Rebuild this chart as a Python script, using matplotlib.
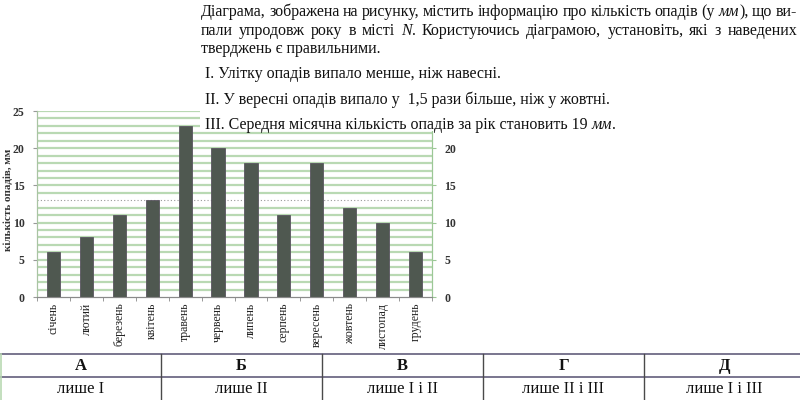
import matplotlib
matplotlib.use("Agg")
import matplotlib.pyplot as plt
from matplotlib.patches import Rectangle
from matplotlib.lines import Line2D

months = ["січень", "лютий", "березень", "квітень", "травень", "червень",
          "липень", "серпень", "вересень", "жовтень", "листопад", "грудень"]
rain_mm = [6, 8, 11, 13, 23, 20, 18, 11, 18, 12, 10, 6]

answer_letters = ["А", "Б", "В", "Г", "Д"]
answer_texts = ["лише I", "лише II", "лише I і II", "лише II і III", "лише I і III"]

SERIF = "Liberation Serif"
BAR = "#4f5850"
GRID = "#b9d9b3"
INK = "#111111"

fig = plt.figure(figsize=(8, 4), dpi=100)
W, H = 800, 400

# --- bar chart ---
ax = fig.add_axes([37 / W, (H - 297) / H, 395 / W, 186 / H])
x = range(len(months))
ax.bar(x, rain_mm, width=0.4, color=BAR, edgecolor="#5a5560", linewidth=0.6, zorder=3)
ax.set_xlim(-0.5, len(months) - 0.5)
ax.set_ylim(0, 25)
for v in range(1, 26):
    if v == 13:
        ax.axhline(v, color="#9a9a9a", lw=0.8, ls=(0, (1, 2)), zorder=1)
    else:
        ax.axhline(v, color=GRID, lw=1.6, zorder=1)

ax.set_yticks(range(0, 26, 5))
ax.set_yticklabels([str(v) for v in range(0, 26, 5)], fontfamily=SERIF,
                   fontsize=8.5, fontweight="bold", color="#333333")
ax.set_xticks(list(x))
ax.set_xticklabels(months, rotation=90, fontfamily=SERIF, fontsize=8.5, color="#222222")
ax.tick_params(axis="x", length=0, pad=4)
ax.set_xticks([i + 0.5 for i in range(-1, len(months))], minor=True)
ax.tick_params(axis="x", which="minor", length=3, color="#888888")
ax.tick_params(axis="y", length=3, color="#999999", pad=6)

# right axis: the 25 mark sits under the question text, so only 0..20 show
ax2 = ax.twinx()
ax2.set_ylim(0, 25)
ax2.set_yticks(range(0, 21, 5))
ax2.set_yticklabels([str(v) for v in range(0, 21, 5)], fontfamily=SERIF,
                    fontsize=8.5, fontweight="bold", color="#333333")
ax2.tick_params(axis="y", length=3, color="#9cc896", pad=6)

for a in (ax, ax2):
    a.spines["top"].set_visible(False)
    a.spines["left"].set_color("#a9c4a3")
    a.spines["right"].set_color("#9cc896")
    a.spines["bottom"].set_color("#8a8a8a")
    a.set_facecolor("none")

fig.text(8 / W, 1 - 200 / H, "кількість опадів, мм", rotation=90, ha="center",
         va="center", fontfamily=SERIF, fontsize=8, fontweight="bold", color="#333333")

# white block under the question text
fig.add_artist(Rectangle((200 / W, 1 - 131 / H), 600 / W, 131 / H,
                         transform=fig.transFigure, facecolor="white",
                         edgecolor="none", zorder=5))

# --- question text ---
renderer = fig.canvas.get_renderer()
FS = 11.5


def put(xp, y, txt, it):
    return fig.text(xp / W, 1 - y / H, txt, fontfamily=SERIF, fontsize=FS,
                    fontstyle="italic" if it else "normal", va="center",
                    color=INK, zorder=6)


def run_width(runs):
    w = 0
    for txt, it in runs:
        t = put(0, 0, txt, it)
        w += t.get_window_extent(renderer).width
        t.remove()
    return w


def draw_runs(y, x0, runs):
    # plain (ragged) line: each run placed right after the previous one
    xp = x0
    for txt, it in runs:
        t = put(xp, y, txt, it)
        xp += t.get_window_extent(renderer).width


def draw_justified(y, x0, x1, words):
    widths = [run_width(w) for w in words]
    space = (x1 - x0 - sum(widths)) / (len(words) - 1)
    xp = x0
    for runs, ww in zip(words, widths):
        draw_runs(y, xp, runs)
        xp += ww + space


def plain(s):
    return [[(w, False)] for w in s.split(" ")]


line1 = plain("Діаграма, зображена на рисунку, містить інформацію про кількість опадів (у") + \
    [[("мм", True), ("),", False)]] + plain("що ви-")
line2 = plain("пали упродовж року в місті") + [[("N", True), (".", False)]] + \
    plain("Користуючись діаграмою, установіть, які з наведених")
draw_justified(12, 201, 797, line1)
draw_justified(31, 201, 797, line2)
draw_runs(49, 201, [("тверджень є правильними.", False)])
draw_runs(74, 205, [("I. Улітку опадів випало менше, ніж навесні.", False)])
draw_runs(100, 205, [("II. У вересні опадів випало у  1,5 рази більше, ніж у жовтні.", False)])
draw_runs(125, 205, [("III. Середня місячна кількість опадів за рік становить 19 ", False),
                     ("мм", True), (".", False)])

# --- answer table ---
LINE = "#6e6a86"
col_w = 161
y_top, y_mid = 354, 377
for yy in (y_top, y_mid):
    fig.add_artist(Line2D([0, 1], [1 - yy / H] * 2, transform=fig.transFigure,
                          color=LINE, lw=1.3))
fig.add_artist(Line2D([0.5 / W] * 2, [1 - y_top / H, 0], transform=fig.transFigure,
                      color="#b9d9b3", lw=1.2))
for i in range(1, 5):
    xx = i * col_w
    fig.add_artist(Line2D([xx / W] * 2, [1 - y_top / H, 0], transform=fig.transFigure,
                          color="#4a4a4a", lw=1.0))
for i, (letter, txt) in enumerate(zip(answer_letters, answer_texts)):
    cx = (i + 0.5) * col_w
    fig.text(cx / W, 1 - 366 / H, letter, ha="center", va="center", fontfamily=SERIF,
             fontsize=12, fontweight="bold", color=INK)
    fig.text(cx / W, 1 - 389 / H, txt, ha="center", va="center", fontfamily=SERIF,
             fontsize=12, color=INK)

fig.savefig("out.png", dpi=100)
